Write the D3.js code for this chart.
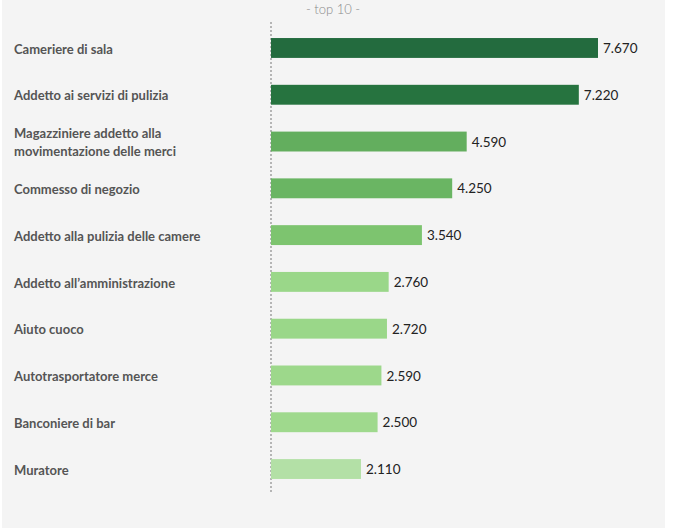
<!DOCTYPE html>
<html lang="it">
<head>
<meta charset="utf-8">
<script src="https://d3js.org/d3.v7.min.js"></script>
<style>
  body { margin: 0; background: #fff; }
</style>
</head>
<body>
<div id="my_dataviz"></div>
<script>

// data
var jobs = [
  "Cameriere di sala",
  "Addetto ai servizi di pulizia",
  "Magazziniere addetto alla movimentazione delle merci",
  "Commesso di negozio",
  "Addetto alla pulizia delle camere",
  "Addetto all\u2019amministrazione",
  "Aiuto cuoco",
  "Autotrasportatore merce",
  "Banconiere di bar",
  "Muratore"
]
var hires = [7670, 7220, 4590, 4250, 3540, 2760, 2720, 2590, 2500, 2110]
var title = "- top 10 -"

// bar colours (one per bar, as in the picture)
var barColors = ["#236b3e", "#26733f", "#63ae5e", "#6ab563", "#7dc46f",
                 "#9ad789", "#9ad789", "#9dd88b", "#9fd98d", "#b3e0a6"]

var width = 673, height = 528

var svg = d3.select("#my_dataviz")
  .append("svg")
  .attr("width", width)
  .attr("height", height)

// panel background
svg.append("rect")
  .attr("x", 2).attr("y", 0)
  .attr("width", 663).attr("height", height)
  .attr("fill", "#f4f4f4")

var x = d3.scaleLinear()
  .domain([0, 7670])
  .range([271, 598])

var y = d3.scaleBand()
  .domain(jobs)
  .range([24, 493])
  .paddingInner(0.575)
  .paddingOuter(0.3)

// title
svg.append("text")
  .attr("x", 333).attr("y", 14)
  .attr("text-anchor", "middle")
  .style("font-family", "Lato, sans-serif")
  .style("font-size", "13px")
  .style("font-weight", 300)
  .style("fill", "#8a8a8a")
  .text(title)

// dashed zero line
svg.append("line")
  .attr("x1", x(0)).attr("x2", x(0))
  .attr("y1", 22).attr("y2", 492)
  .attr("stroke", "#777")
  .attr("stroke-width", 1)
  .attr("stroke-dasharray", "2,2")

var rows = svg.selectAll(".row")
  .data(jobs)
  .enter()
  .append("g")
  .attr("class", "row")

rows.append("rect")
  .attr("x", x(0))
  .attr("y", function(d) { return y(d) })
  .attr("height", y.bandwidth())
  .attr("width", function(d, i) { return x(hires[i]) - x(0) })
  .attr("fill", function(d, i) { return barColors[i] })

// value labels
rows.append("text")
  .attr("x", function(d, i) { return x(hires[i]) + 5 })
  .attr("y", function(d) { return y(d) + y.bandwidth() / 2 })
  .attr("dy", "0.38em")
  .style("font-family", "Lato, sans-serif")
  .style("font-size", "13.5px")
  .style("fill", "#222")
  .text(function(d, i) { return d3.format(",")(hires[i]).replace(",", ".") })

// category labels (long one wraps in two lines)
var wrapAt = { "Magazziniere addetto alla movimentazione delle merci": ["Magazziniere addetto alla", "movimentazione delle merci"] }

rows.each(function(d) {
  var lines = wrapAt[d] || [d]
  var cy = y(d) + y.bandwidth() / 2
  var t = d3.select(this).append("text")
    .attr("x", 14)
    .style("font-family", "Lato, sans-serif")
    .style("font-size", "13px")
    .style("font-weight", 700)
    .style("fill", "#555")
  lines.forEach(function(l, k) {
    t.append("tspan")
      .attr("x", 14)
      .attr("y", cy + 1 + (k - (lines.length - 1) / 2) * 18)
      .attr("dy", "0.36em")
      .text(l)
  })
})

</script>
</body>
</html>
